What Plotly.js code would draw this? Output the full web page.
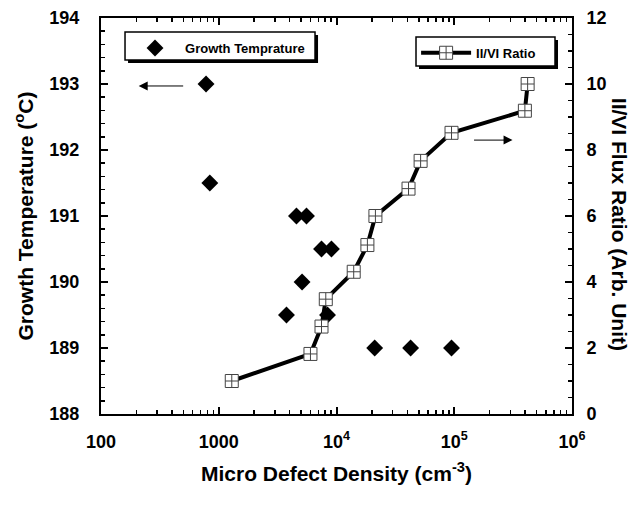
<!DOCTYPE html>
<html>
<head>
<meta charset="utf-8">
<script src="https://cdn.plot.ly/plotly-3.0.1.min.js"></script>
<style>html,body{margin:0;padding:0;background:#fff;}#chart{width:639px;height:508px;}</style>
</head>
<body>
<div id="chart"></div>
<script>
// Growth temperature (left axis)
const tempDensity = [780, 840, 4570, 5560, 7460, 9060, 5100, 3760, 8390, 21100, 42600, 94800];
const tempValues  = [193, 191.5, 191, 191, 190.5, 190.5, 190, 189.5, 189.5, 189, 189, 189];
// II/VI flux ratio (right axis)
const ratioDensity = [1290, 6010, 7460, 8110, 14000, 18300, 21400, 40900, 51800, 94800, 398000, 420000];
const ratioValues  = [1.0, 1.82, 2.65, 3.48, 4.31, 5.12, 6.0, 6.83, 7.67, 8.52, 9.19, 10.0];
// x tick labels
const xTickVals = [100, 1000, 10000, 100000, 1000000];
const xTickText = ['100', '1000', '10<sup>4</sup>', '10<sup>5</sup>', '10<sup>6</sup>'];

const FONT = 'Liberation Sans, Arial, Helvetica, sans-serif';

const traces = [
  {
    x: tempDensity, y: tempValues, type: 'scatter', mode: 'markers',
    name: 'Growth Temprature', legend: 'legend',
    marker: {symbol: 'diamond', size: 13, color: '#000'},
    xaxis: 'x', yaxis: 'y'
  },
  {
    x: ratioDensity, y: ratioValues, type: 'scatter', mode: 'lines+markers',
    name: 'II/VI Ratio', legend: 'legend2',
    line: {color: '#000', width: 4},
    marker: {symbol: 'square-cross', size: 13, color: '#fff', line: {color: '#444', width: 1}},
    xaxis: 'x', yaxis: 'y2'
  }
];

const tickFont = {family: FONT, size: 18, color: '#000', weight: 700};
const titleFont = {family: FONT, size: 21, color: '#000', weight: 700};
const legendFont = {family: FONT, size: 13, color: '#000', weight: 700};

// legend frame: white box with black border plus a drop shadow (paper coords)
function frame(x0, x1, y0, y1) {
  return [
    {type: 'rect', xref: 'paper', yref: 'paper', x0: x0 + 0.0064, x1: x1 + 0.0064, y0: y0 - 0.0076, y1: y1 - 0.0076,
     fillcolor: '#000', line: {width: 0}, layer: 'above'},
    {type: 'rect', xref: 'paper', yref: 'paper', x0: x0, x1: x1, y0: y0, y1: y1,
     fillcolor: '#fff', line: {color: '#000', width: 1.5}, layer: 'above'}
  ];
}

const layout = {
  width: 639, height: 508,
  margin: {l: 101, r: 67, t: 18, b: 94, pad: 0},
  paper_bgcolor: '#fff', plot_bgcolor: '#fff',
  showlegend: true,
  xaxis: {
    type: 'log', range: [2, 6],
    tickmode: 'array', tickvals: xTickVals, ticktext: xTickText,
    ticks: 'inside', ticklen: 7, tickwidth: 2, tickcolor: '#000',
    minor: {ticks: 'inside', ticklen: 4, tickwidth: 1.5, tickcolor: '#000', dtick: 'D1', showgrid: false},
    showline: true, linewidth: 2, linecolor: '#000', mirror: 'ticks',
    showgrid: false, zeroline: false,
    tickfont: tickFont, ticklabelstandoff: 10,
    title: {text: 'Micro Defect Density (cm<sup>-3</sup>)', font: titleFont, standoff: 16}
  },
  yaxis: {
    range: [188, 194], dtick: 1,
    ticks: 'inside', ticklen: 7, tickwidth: 2, tickcolor: '#000',
    minor: {ticks: 'inside', ticklen: 4, tickwidth: 1.5, tickcolor: '#000', dtick: 0.2, showgrid: false},
    showline: true, linewidth: 2, linecolor: '#000', mirror: true,
    showgrid: false, zeroline: false,
    tickfont: tickFont, ticklabelstandoff: 16,
    title: {text: 'Growth Temperature (<sup>o</sup>C)', font: titleFont, standoff: 10}
  },
  yaxis2: {
    overlaying: 'y', side: 'right', range: [0, 12], dtick: 2,
    ticks: 'inside', ticklen: 7, tickwidth: 2, tickcolor: '#000',
    minor: {ticks: 'inside', ticklen: 4, tickwidth: 1.5, tickcolor: '#000', dtick: 0.5, showgrid: false},
    showline: true, linewidth: 2, linecolor: '#000',
    showgrid: false, zeroline: false,
    tickfont: tickFont, ticklabelstandoff: 9
  },
  legend: {
    x: 0.051, y: 0.962, xanchor: 'left', yanchor: 'top',
    bgcolor: 'rgba(0,0,0,0)', borderwidth: 0,
    font: legendFont, itemwidth: 50
  },
  legend2: {
    x: 0.669, y: 0.950, xanchor: 'left', yanchor: 'top',
    bgcolor: 'rgba(0,0,0,0)', borderwidth: 0,
    font: legendFont, itemwidth: 50
  },
  shapes: [].concat(
    frame(0.0510, 0.4544, 0.8939, 0.9646),
    frame(0.6688, 0.9639, 0.8788, 0.9520)
  ),
  annotations: [
    {text: 'II/VI Flux Ratio (Arb. Unit)', xref: 'paper', yref: 'paper', x: 1.1, y: 0.48,
     textangle: 90, showarrow: false, font: titleFont, xanchor: 'center', yanchor: 'middle'},
    {text: '', xref: 'x', yref: 'y', x: 2.32, y: 192.97, ax: 46, ay: 0, axref: 'pixel', ayref: 'pixel',
     showarrow: true, arrowhead: 2, arrowsize: 1.8, arrowwidth: 1, arrowcolor: '#000'},
    {text: '', xref: 'x', yref: 'y2', x: 5.495, y: 8.3, ax: -40, ay: 0, axref: 'pixel', ayref: 'pixel',
     showarrow: true, arrowhead: 2, arrowsize: 1.8, arrowwidth: 1, arrowcolor: '#000'}
  ]
};

Plotly.newPlot('chart', traces, layout, {staticPlot: true, displayModeBar: false});
</script>
</body>
</html>
